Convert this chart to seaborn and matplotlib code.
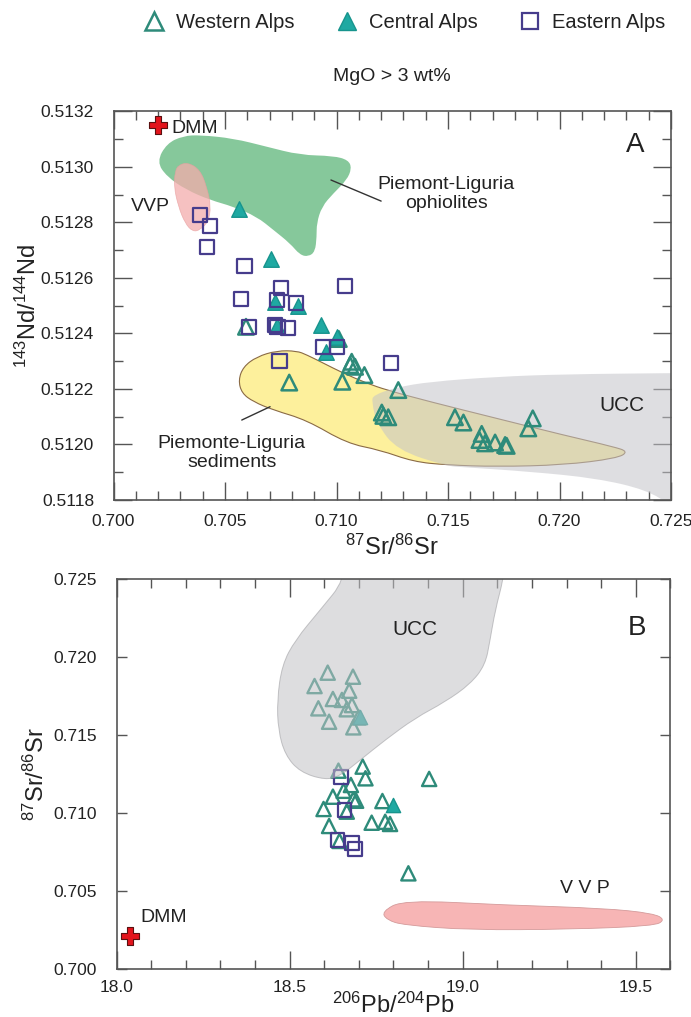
import numpy as np
import pandas as pd
import matplotlib
matplotlib.use("Agg")
import matplotlib.pyplot as plt
import seaborn as sns
from matplotlib.lines import Line2D
from matplotlib.path import Path
from matplotlib.patches import PathPatch
from matplotlib.ticker import MultipleLocator, FormatStrFormatter

# ---------------- Panel A data: 87Sr/86Sr vs 143Nd/144Nd ----------------
a_west_sr = [0.70594, 0.70788, 0.71026, 0.71068, 0.71061, 0.71083, 0.71125, 0.71277,
             0.71203, 0.71210, 0.71232, 0.71531, 0.71569, 0.71651, 0.71641, 0.71666,
             0.71711, 0.71756, 0.71763, 0.71880, 0.71860, 0.71010]
a_west_nd = [0.512424, 0.512223, 0.512226, 0.512298, 0.512286, 0.512280, 0.512250, 0.512196,
             0.512115, 0.512103, 0.512098, 0.512098, 0.512079, 0.512038, 0.512016, 0.512004,
             0.512007, 0.511998, 0.511995, 0.512094, 0.512058, 0.512380]
a_cent_sr = [0.70564, 0.70706, 0.70724, 0.70829, 0.70732, 0.70930, 0.71001, 0.70951]
a_cent_nd = [0.512848, 0.512667, 0.512515, 0.512499, 0.512427, 0.512431, 0.512389, 0.512332]
a_east_sr = [0.70388, 0.70433, 0.70418, 0.70587, 0.70751, 0.71038, 0.70572, 0.70732, 0.70818,
             0.70609, 0.70724, 0.70735, 0.70784, 0.70941, 0.71001, 0.70744, 0.71243]
a_east_nd = [0.512827, 0.512787, 0.512711, 0.512643, 0.512563, 0.512572, 0.512524, 0.512521, 0.512511,
             0.512424, 0.512431, 0.512422, 0.512421, 0.512352, 0.512352, 0.512301, 0.512293]
a_dmm = (0.7020, 0.51315)

# fields (outlines) in panel A
ophio_sr = [0.70194, 0.70239, 0.70313, 0.70388, 0.70537, 0.70687, 0.70836, 0.70986, 0.71053,
            0.71068, 0.71046, 0.70986, 0.70934, 0.70911, 0.70911, 0.70904, 0.70874, 0.70836,
            0.70791, 0.70717, 0.70642, 0.70537, 0.70433, 0.70328, 0.70239]
ophio_nd = [0.513019, 0.513085, 0.513112, 0.513115, 0.513103, 0.513073, 0.513043, 0.513040, 0.513025,
            0.512995, 0.512953, 0.512905, 0.512857, 0.512797, 0.512749, 0.512695, 0.512677, 0.512683,
            0.512725, 0.512773, 0.512821, 0.512857, 0.512881, 0.512917, 0.512965]
vvpA_sr = [0.70291, 0.70335, 0.70388, 0.70418, 0.70437, 0.70425, 0.70388, 0.70355, 0.70321,
           0.70291, 0.70271, 0.70276]
vvpA_nd = [0.513007, 0.513016, 0.512989, 0.512929, 0.512857, 0.512803, 0.512773, 0.512767, 0.512797,
           0.512857, 0.512929, 0.512983]
sed_sr = [0.70560, 0.70582, 0.70642, 0.70732, 0.70822, 0.70866, 0.70941, 0.71030, 0.71135, 0.71225,
          0.71419, 0.71718, 0.72017, 0.72241, 0.72309, 0.72256, 0.72017, 0.71718, 0.71494, 0.71344,
          0.71195, 0.71046, 0.70866, 0.70717, 0.70627, 0.70575]
sed_nd = [0.512232, 0.512280, 0.512316, 0.512338, 0.512337, 0.512323, 0.512293, 0.512257, 0.512221, 0.512196,
          0.512154, 0.512094, 0.512034, 0.511992, 0.511974, 0.511950, 0.511926, 0.511920, 0.511926, 0.511938,
          0.511980, 0.512004, 0.512088, 0.512124, 0.512154, 0.512185]
uccA_sr = [0.71165, 0.71270, 0.71419, 0.71718, 0.72017, 0.72488, 0.72700, 0.72700, 0.72500,
           0.72391, 0.72167, 0.71868, 0.71569, 0.71494, 0.71270, 0.71180, 0.71158]
uccA_nd = [0.512178, 0.512206, 0.512226, 0.512244, 0.512253, 0.512257, 0.512258, 0.511700, 0.511780,
           0.511836, 0.511878, 0.511902, 0.511918, 0.511922, 0.511980, 0.512076, 0.512154]

# ---------------- Panel B data: 206Pb/204Pb vs 87Sr/86Sr ----------------
b_west_pb = [18.610, 18.683, 18.572, 18.672, 18.625, 18.651, 18.680, 18.583, 18.665, 18.699,
             18.614, 18.684, 18.641, 18.711, 18.719, 18.903, 18.677, 18.656, 18.625, 18.684,
             18.692, 18.598, 18.665, 18.768, 18.737, 18.776, 18.790, 18.614, 18.644, 18.843]
b_west_sr = [0.71902, 0.71876, 0.71816, 0.71786, 0.71733, 0.71727, 0.71694, 0.71673, 0.71667, 0.71615,
             0.71587, 0.71551, 0.71273, 0.71299, 0.71224, 0.71220, 0.71181, 0.71144, 0.71106, 0.71089,
             0.71080, 0.71027, 0.71010, 0.71078, 0.70939, 0.70945, 0.70931, 0.70918, 0.70822, 0.70614]
b_cent_pb = [18.704, 18.800]
b_cent_sr = [0.71619, 0.71053]
b_east_pb = [18.649, 18.658, 18.638, 18.680, 18.689]
b_east_sr = [0.71234, 0.71021, 0.70828, 0.70807, 0.70770]
b_dmm = (18.04, 0.7021)

uccB_pb = [18.650, 18.660, 18.588, 18.516, 18.478, 18.464, 18.467, 18.487, 18.530, 18.603, 18.646,
           18.704, 18.776, 18.863, 18.949, 19.022, 19.065, 19.079, 19.094, 19.117, 19.130]
uccB_sr = [0.7270, 0.7250, 0.72304, 0.72111, 0.71951, 0.71726, 0.71534, 0.71374, 0.71264, 0.71213, 0.71239,
           0.71341, 0.71470, 0.71611, 0.71714, 0.71829, 0.71951, 0.72112, 0.72304, 0.7250, 0.7270]
vvpB_pb = [18.766, 18.829, 19.118, 19.407, 19.551, 19.585, 19.551, 19.311, 19.022, 18.829, 18.781]
vvpB_sr = [0.70368, 0.70443, 0.70411, 0.70390, 0.70357, 0.70315, 0.70276, 0.70255, 0.70250, 0.70282, 0.70315]

groups = ["Western Alps", "Central Alps", "Eastern Alps"]

# ---------------- style ----------------
sns.set_theme(style="ticks")
plt.rcParams['font.family'] = ['Liberation Sans', 'DejaVu Sans']
plt.rcParams['mathtext.fontset'] = 'custom'
plt.rcParams['mathtext.rm'] = 'Liberation Sans'
plt.rcParams['mathtext.it'] = 'Liberation Sans:italic'
plt.rcParams['mathtext.bf'] = 'Liberation Sans:bold'

TXT = '#222222'
SPINE = '#555555'
WEST = '#2e8b7a'
CENT_F = '#1fa9a2'
CENT_E = '#17948d'
EAST = '#463c8c'
RED = '#e3141c'

fig = plt.figure(figsize=(6.91, 10.17), dpi=100)
axA = fig.add_axes([0.1643, 0.5084, 0.8068, 0.3820])
axB = fig.add_axes([0.1686, 0.0472, 0.8017, 0.3830])


def pts(ax, x, y, marker, s, fc, ec, lw, z):
    sns.scatterplot(x=x, y=y, ax=ax, marker=marker, s=s, facecolor=fc,
                    edgecolor=ec, linewidth=lw, zorder=z, legend=False)


def field(ax, x, y, **kw):
    """Closed smooth outline (quadratic B-spline path through the read vertices)."""
    P = np.column_stack([x, y])
    mids = (P + np.roll(P, -1, axis=0)) / 2.0
    verts = [mids[-1]]
    codes = [Path.MOVETO]
    for i in range(len(P)):
        verts += [P[i], mids[i]]
        codes += [Path.CURVE3, Path.CURVE3]
    patch = PathPatch(Path(verts, codes), **kw)
    ax.add_patch(patch)
    return patch


# ---------- Panel A ----------
field(axA, uccA_sr, uccA_nd, facecolor='#c4c4c9', alpha=0.55, lw=0, zorder=2)
field(axA, sed_sr, sed_nd, facecolor='#fdf09c', edgecolor='#8a6a45', lw=0.8, zorder=1)
field(axA, ophio_sr, ophio_nd, facecolor='#86c89b', lw=0, zorder=1)
field(axA, vvpA_sr, vvpA_nd, facecolor='#f4acac', alpha=0.75, edgecolor='#e8a0a0', lw=0.5, zorder=2)

pts(axA, a_west_sr, a_west_nd, '^', 125, 'none', WEST, 1.8, 5)
pts(axA, a_cent_sr, a_cent_nd, '^', 125, CENT_F, CENT_E, 1.0, 5)
pts(axA, a_east_sr, a_east_nd, 's', 105, 'none', EAST, 1.6, 6)
pts(axA, [a_dmm[0]], [a_dmm[1]], 'P', 150, RED, '#5a1010', 0.8, 7)

axA.plot([0.70975, 0.71200], [0.512953, 0.512877], color='#333333', lw=1.0, zorder=4)
axA.plot([0.70575, 0.70702], [0.512088, 0.512136], color='#333333', lw=1.0, zorder=4)

axA.text(0.70261, 0.513139, 'DMM', fontsize=14, color=TXT, va='center', ha='left')
axA.text(0.70164, 0.512857, 'VVP', fontsize=14, color=TXT, va='center', ha='center')
axA.text(0.71491, 0.512903, 'Piemont-Liguria\nophiolites', fontsize=14, color=TXT,
         va='center', ha='center', linespacing=1.15)
axA.text(0.70530, 0.511968, 'Piemonte-Liguria\nsediments', fontsize=14, color=TXT,
         va='center', ha='center', linespacing=1.15)
axA.text(0.72279, 0.512142, 'UCC', fontsize=15, color=TXT, va='center', ha='center')
axA.text(0.72339, 0.513079, 'A', fontsize=20, color=TXT, va='center', ha='center')

axA.set_xlim(0.700, 0.725)
axA.set_ylim(0.5118, 0.5132)
axA.xaxis.set_major_locator(MultipleLocator(0.005))
axA.xaxis.set_minor_locator(MultipleLocator(0.001))
axA.yaxis.set_major_locator(MultipleLocator(0.0002))
axA.yaxis.set_minor_locator(MultipleLocator(0.0001))
axA.xaxis.set_major_formatter(FormatStrFormatter('%.3f'))
axA.yaxis.set_major_formatter(FormatStrFormatter('%.4f'))
axA.tick_params(which='both', direction='in', top=True, right=True, color=SPINE, width=1.0)
axA.tick_params(which='major', length=13)
axA.tick_params(which='minor', length=6.5)
axA.tick_params(axis='x', which='major', pad=10, labelsize=12.5, labelcolor=TXT)
axA.tick_params(axis='y', which='major', pad=14, labelsize=12.5, labelcolor=TXT)
axA.set_xlabel(r'$^{87}$Sr/$^{86}$Sr', fontsize=17, color=TXT, labelpad=4)
axA.set_ylabel(r'$^{143}$Nd/$^{144}$Nd', fontsize=17, color=TXT, labelpad=0)
axA.set_title('MgO > 3 wt%', fontsize=14, color=TXT, pad=22)

# ---------- Panel B ----------
field(axB, vvpB_pb, vvpB_sr, facecolor='#f7b5b5', edgecolor='#d49a9a', lw=0.6, zorder=1)

pts(axB, b_west_pb, b_west_sr, '^', 105, 'none', WEST, 1.7, 3)
pts(axB, b_cent_pb, b_cent_sr, '^', 105, CENT_F, CENT_E, 1.0, 3)
pts(axB, b_east_pb, b_east_sr, 's', 95, 'none', EAST, 1.6, 4)
pts(axB, [b_dmm[0]], [b_dmm[1]], 'P', 150, RED, '#5a1010', 0.8, 7)

field(axB, uccB_pb, uccB_sr, facecolor='#c2c2c6', alpha=0.55, edgecolor='#9a9a9e', lw=0.7, zorder=5)

axB.text(18.068, 0.70333, 'DMM', fontsize=14, color=TXT, va='center', ha='left')
axB.text(19.354, 0.70518, 'V V P', fontsize=14, color=TXT, va='center', ha='center')
axB.text(18.863, 0.72176, 'UCC', fontsize=15, color=TXT, va='center', ha='center', zorder=6)
axB.text(19.503, 0.72187, 'B', fontsize=20, color=TXT, va='center', ha='center')

axB.set_xlim(18.0, 19.6)
axB.set_ylim(0.700, 0.725)
axB.xaxis.set_major_locator(MultipleLocator(0.5))
axB.xaxis.set_minor_locator(MultipleLocator(0.1))
axB.yaxis.set_major_locator(MultipleLocator(0.005))
axB.xaxis.set_major_formatter(FormatStrFormatter('%.1f'))
axB.yaxis.set_major_formatter(FormatStrFormatter('%.3f'))
axB.tick_params(which='both', direction='in', top=True, right=True, color=SPINE, width=1.0)
axB.tick_params(axis='x', which='major', length=13, pad=8, labelsize=12.5, labelcolor=TXT)
axB.tick_params(axis='x', which='minor', length=6.5)
axB.tick_params(axis='y', which='major', length=7, pad=14, labelsize=12.5, labelcolor=TXT)
axB.set_xlabel(r'$^{206}$Pb/$^{204}$Pb', fontsize=17, color=TXT, labelpad=-2)
axB.set_ylabel(r'$^{87}$Sr/$^{86}$Sr', fontsize=17, color=TXT, labelpad=3)

for ax in (axA, axB):
    for sp in ax.spines.values():
        sp.set_color(SPINE)
        sp.set_linewidth(1.2)
        sp.set_zorder(8)

# ---------- legend ----------
handles = [
    Line2D([], [], ls='none', marker='^', ms=13, mfc='none', mec=WEST, mew=1.8),
    Line2D([], [], ls='none', marker='^', ms=13, mfc=CENT_F, mec=CENT_E, mew=1.0),
    Line2D([], [], ls='none', marker='s', ms=12, mfc='none', mec=EAST, mew=1.6),
]
fig.legend(handles, groups, loc='center', bbox_to_anchor=(0.584, 0.978), ncol=3,
           frameon=False, fontsize=14.5, columnspacing=2.0, handletextpad=0.5,
           handlelength=1.2, labelcolor=TXT)

fig.savefig('out.png', dpi=100)
